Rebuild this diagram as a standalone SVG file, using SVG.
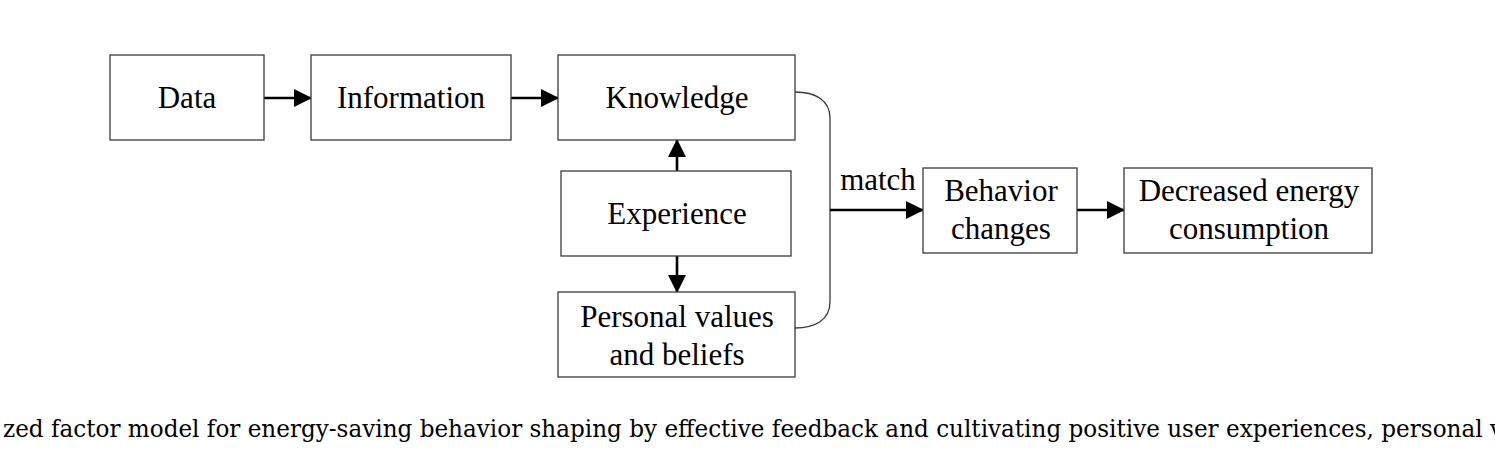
<svg xmlns="http://www.w3.org/2000/svg" width="1495" height="469" viewBox="0 0 1495 469">
<style>
.box{fill:#fff;stroke:#3a3a3a;stroke-width:1.3}
.lbl{font-family:"Liberation Serif","Times New Roman",serif;font-size:31px;fill:#000;text-anchor:middle}
.arr{stroke:#000;stroke-width:2.6;fill:none;marker-end:url(#ah)}
.brace{stroke:#3a3a3a;stroke-width:1.3;fill:none}
.cap{font-family:"DejaVu Serif",serif;font-size:25px;fill:#000}
</style>
<defs>
<marker id="ah" markerUnits="userSpaceOnUse" markerWidth="18" markerHeight="18" refX="17" refY="9" orient="auto">
<path d="M0,0 L18,9 L0,18 Z" fill="#000"/>
</marker>
</defs>
<rect width="1495" height="469" fill="#fff"/>
<g id="connectors">
<line class="arr" x1="264" y1="98" x2="311" y2="98"/>
<line class="arr" x1="511" y1="98" x2="558" y2="98"/>
<line class="arr" x1="677" y1="171" x2="677" y2="140"/>
<line class="arr" x1="677" y1="256" x2="677" y2="292"/>
<path class="brace" d="M795,92 C815,92 830,100 830,118 L830,302 C830,320 815,328 795,328"/>
<line class="arr" x1="830" y1="210" x2="923" y2="210"/>
<line class="arr" x1="1077" y1="210" x2="1124" y2="210"/>
<text class="lbl" x="878" y="190">match</text>
</g>
<g id="data"><rect class="box" x="110" y="55" width="154" height="85"/><text class="lbl" x="187" y="108">Data</text></g>
<g id="information"><rect class="box" x="311" y="55" width="200" height="85"/><text class="lbl" x="411" y="108">Information</text></g>
<g id="knowledge"><rect class="box" x="558" y="55" width="237" height="85"/><text class="lbl" x="677" y="108">Knowledge</text></g>
<g id="experience"><rect class="box" x="561" y="171" width="230" height="85"/><text class="lbl" x="677" y="224">Experience</text></g>
<g id="personal"><rect class="box" x="558" y="292" width="237" height="85"/><text class="lbl" x="677" y="327">Personal values</text><text class="lbl" x="677" y="365">and beliefs</text></g>
<g id="behavior"><rect class="box" x="923" y="168" width="154" height="85"/><text class="lbl" x="1001" y="201">Behavior</text><text class="lbl" x="1001" y="239">changes</text></g>
<g id="decreased"><rect class="box" x="1124" y="168" width="248" height="85"/><text class="lbl" x="1249" y="201">Decreased energy</text><text class="lbl" x="1249" y="239">consumption</text></g>
<text class="cap" x="3" y="437" textLength="1500" lengthAdjust="spacingAndGlyphs">zed factor model for energy-saving behavior shaping by effective feedback and cultivating positive user experiences, personal v</text>
</svg>
